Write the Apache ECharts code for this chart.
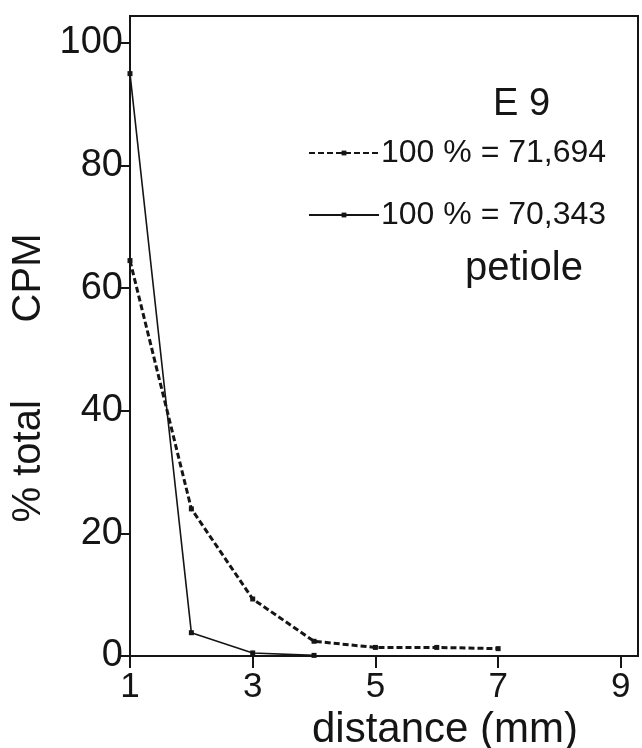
<!DOCTYPE html>
<html>
<head>
<meta charset="utf-8">
<script src="https://cdn.jsdelivr.net/npm/echarts@6/dist/echarts.min.js"></script>
<style>
  html, body { margin: 0; padding: 0; background: #fff; }
  #main { width: 642px; height: 748px; }
</style>
</head>
<body>
<div id="main"></div>
<script>
// distance (mm) along the petiole
var distance = [1, 2, 3, 4, 5, 6, 7];
// % total CPM, dashed curve (100 % = 71,694)
var dashedVals = [64.5, 24, 9.3, 2.4, 1.4, 1.4, 1.2];
// % total CPM, solid curve (100 % = 70,343)
var solidVals = [95, 3.8, 0.5, 0.1];
var xTicks = [1, 3, 5, 7, 9];
var yTicks = [0, 20, 40, 60, 80, 100];
var seriesNames = ['100 % = 71,694', '100 % = 70,343'];

var ink = '#151515';
var font = 'Liberation Sans, Arial, sans-serif';

function pairs(xs, ys) {
  return ys.map(function (v, i) { return [xs[i], v]; });
}

var chart = echarts.init(document.getElementById('main'));

var option = {
  backgroundColor: '#fff',
  animation: false,
  title: [{
    text: 'E 9',
    left: 488, top: 81,
    textStyle: { fontFamily: font, fontSize: 38, fontWeight: 'normal', color: ink }
  }, {
    text: 'petiole',
    left: 460, top: 244,
    textStyle: { fontFamily: font, fontSize: 40, fontWeight: 'normal', color: ink }
  }],
  legend: {
    orient: 'vertical',
    left: 303, top: 132,
    itemWidth: 70, itemHeight: 6,
    itemGap: 30,
    data: seriesNames,
    textStyle: { fontFamily: font, fontSize: 32, color: ink, padding: [0, 0, 0, -3] }
  },
  grid: {
    left: 130, right: 4, top: 16, bottom: 92,
    outerBoundsMode: 'none',
    containLabel: false,
    show: true, borderColor: ink, borderWidth: 2
  },
  xAxis: {
    type: 'value',
    min: 1, max: 9.28,
    name: 'distance (mm)',
    nameLocation: 'middle',
    nameGap: 42,
    nameTextStyle: { fontFamily: font, fontSize: 42, color: ink, padding: [0, 0, 0, 122] },
    splitLine: { show: false },
    axisLine: { lineStyle: { color: ink, width: 2 } },
    axisTick: { customValues: xTicks, length: 12, lineStyle: { color: ink, width: 2 } },
    axisLabel: { customValues: xTicks, fontFamily: font, fontSize: 35, color: ink, margin: 14 }
  },
  yAxis: {
    type: 'value',
    min: 0, max: 104.4,
    name: '% total       CPM',
    nameLocation: 'middle',
    nameGap: 76,
    nameRotate: 90,
    nameTextStyle: { fontFamily: font, fontSize: 40, color: ink, padding: [0, 84, 0, 0] },
    splitLine: { show: false },
    axisLine: { lineStyle: { color: ink, width: 2 } },
    axisTick: { customValues: yTicks, length: 10, lineStyle: { color: ink, width: 2 } },
    axisLabel: { customValues: yTicks, fontFamily: font, fontSize: 38, color: ink, margin: 7 }
  },
  series: [{
    name: seriesNames[0],
    type: 'line',
    data: pairs(distance, dashedVals),
    symbol: 'rect', symbolSize: 5,
    itemStyle: { color: ink },
    lineStyle: { color: ink, width: 3, type: [6, 3] }
  }, {
    name: seriesNames[1],
    type: 'line',
    data: pairs(distance, solidVals),
    symbol: 'rect', symbolSize: 5,
    itemStyle: { color: ink },
    lineStyle: { color: ink, width: 1.6 }
  }]
};

chart.setOption(option);
</script>
</body>
</html>
